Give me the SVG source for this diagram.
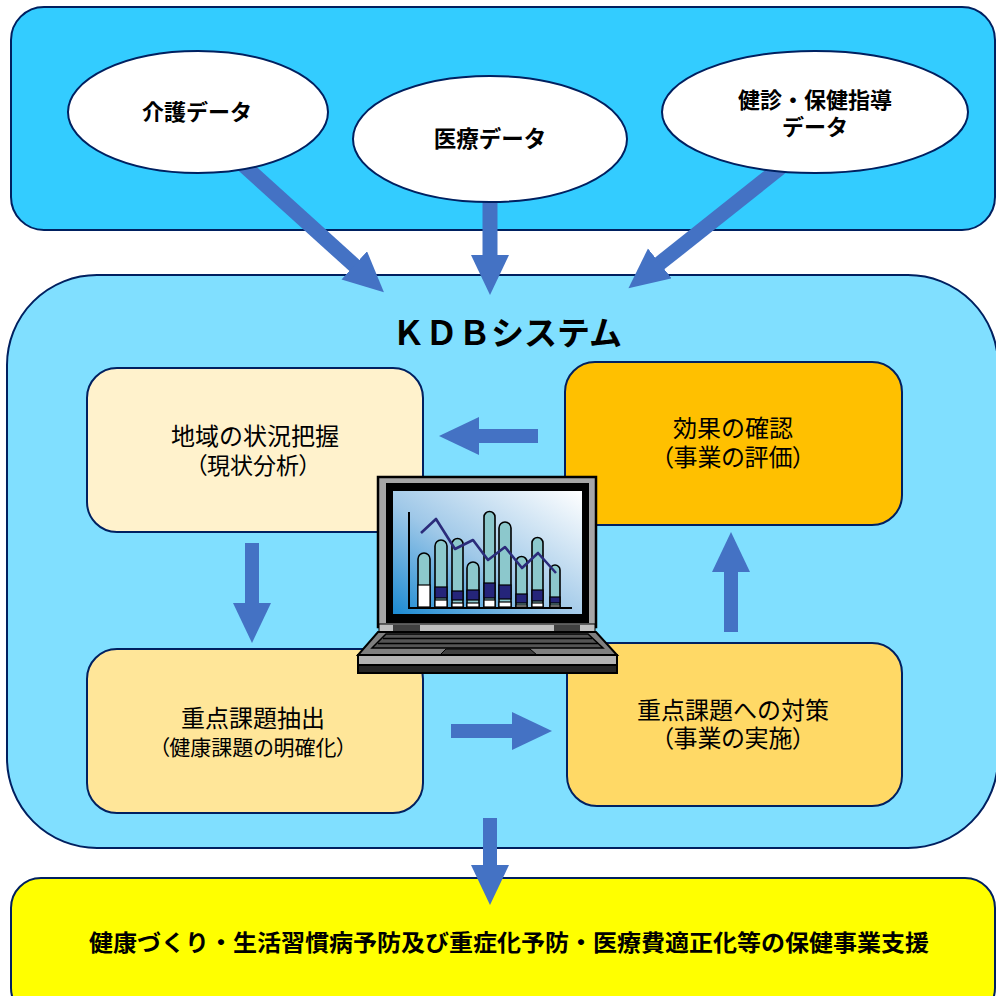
<svg xmlns="http://www.w3.org/2000/svg" width="996" height="996" viewBox="0 0 996 996">
  <defs>
    <style>
      .frame { stroke: #002060; stroke-width: 2; }
      .node { stroke: #002060; stroke-width: 2; }
      .lbl { font-family: "Noto Sans CJK JP", "Noto Sans", sans-serif; fill: #000; text-anchor: middle; }
      .b { font-weight: bold; }
      .palt { font-feature-settings: "palt"; }
      .conn { stroke: #4472C4; fill: none; }
      .bar { fill: #8CC8CC; stroke: #000; stroke-width: 1.6; }
      .seg-n { fill: #25257A; stroke: #000; stroke-width: 1.2; }
      .seg-w { fill: #FFFFFF; stroke: #000; stroke-width: 1.2; }
    </style>
    <marker id="head" markerUnits="userSpaceOnUse" markerWidth="42" markerHeight="40" refX="1" refY="19" orient="auto">
      <path d="M0,0 L40,19 L0,38 Z" fill="#4472C4"/>
    </marker>
    <linearGradient id="scr" x1="0" y1="1" x2="1" y2="0">
      <stop offset="0" stop-color="#1B8AD2"/>
      <stop offset="0.45" stop-color="#9FC8E8"/>
      <stop offset="1" stop-color="#FFFFFF"/>
    </linearGradient>
  </defs>

  <!-- containers -->
  <g id="data-sources">
    <rect class="frame" x="11" y="7" width="984" height="223" rx="33" fill="#33CCFF"/>
  </g>
  <g id="kdb-system">
    <rect class="frame" x="7" y="275" width="991" height="573" rx="90" fill="#80DFFF"/>
    <text class="lbl" x="507" y="345" font-size="33" font-weight="bold">ＫＤＢシステム</text>
  </g>
  <g id="support">
    <rect class="frame" x="11" y="878" width="984" height="140" rx="30" fill="#FFFF00"/>
    <text class="lbl b" x="509" y="951" font-size="23" textLength="840" lengthAdjust="spacingAndGlyphs">健康づくり・生活習慣病予防及び重症化予防・医療費適正化等の保健事業支援</text>
  </g>

  <!-- cycle steps -->
  <g id="step-analysis">
    <rect class="node" x="87" y="368" width="336" height="164" rx="30" fill="#FFF2CC"/>
    <text class="lbl" font-size="24"><tspan x="255" y="445">地域の状況把握</tspan><tspan class="palt" x="253" y="474" font-size="23">（現状分析）</tspan></text>
  </g>
  <g id="step-evaluation">
    <rect class="node" x="565" y="362" width="337" height="163" rx="30" fill="#FFC000"/>
    <text class="lbl" font-size="24"><tspan x="733" y="437">効果の確認</tspan><tspan class="palt" x="733" y="466">（事業の評価）</tspan></text>
  </g>
  <g id="step-extraction">
    <rect class="node" x="87" y="649" width="336" height="164" rx="30" fill="#FFE699"/>
    <text class="lbl" font-size="24"><tspan x="253" y="727">重点課題抽出</tspan><tspan class="palt" x="253" y="755" font-size="21">（健康課題の明確化）</tspan></text>
  </g>
  <g id="step-measures">
    <rect class="node" x="567" y="643" width="335" height="163" rx="30" fill="#FFD966"/>
    <text class="lbl" font-size="24"><tspan x="733" y="719">重点課題への対策</tspan><tspan class="palt" x="733" y="747">（事業の実施）</tspan></text>
  </g>

  <!-- laptop with chart -->
  <g id="laptop">
    <rect x="378" y="477" width="218" height="150" fill="#A6A6A6" stroke="#000" stroke-width="2.5"/>
    <rect x="386" y="483" width="203" height="140" fill="#000"/>
    <rect x="393" y="491" width="189" height="123" fill="url(#scr)"/>
    <rect x="379" y="624" width="216" height="8" fill="#BFBFBF" stroke="#000" stroke-width="1"/>
    <rect x="393" y="625" width="27" height="6" fill="#404040"/>
    <rect x="554" y="625" width="26" height="6" fill="#404040"/>
    <polygon points="378,632 596,632 617,655 358,655" fill="#7F7F7F" stroke="#000" stroke-width="2"/>
    <polygon points="386,634 588,634 603,648 372,648" fill="#555" stroke="#000" stroke-width="1.5"/>
    <line x1="383" y1="638.5" x2="592" y2="638.5" stroke="#000" stroke-width="1.5"/>
    <line x1="378" y1="643.5" x2="598" y2="643.5" stroke="#000" stroke-width="1.5"/>
    <polygon points="446,649 530,649 537,655 440,655" fill="#404040" stroke="#000" stroke-width="1"/>
    <rect x="358" y="655" width="259" height="10" fill="#B3B3B3" stroke="#000" stroke-width="2"/>
    <rect x="358" y="665" width="259" height="8" fill="#262626" stroke="#000" stroke-width="2"/>

    <!-- chart -->
    <path class="bar" d="M418,607 V559 A6,6 0 0 1 430,559 V607 Z"/>
    <rect class="seg-w" x="418" y="585" width="12" height="22"/>
    <path class="bar" d="M435,607 V546 A6,6 0 0 1 447,546 V607 Z"/>
    <rect class="seg-n" x="435" y="587" width="12" height="11"/>
    <rect class="seg-w" x="435" y="600" width="12" height="7"/>
    <path class="bar" d="M452,607 V544 A5.5,5.5 0 0 1 463,544 V607 Z"/>
    <rect class="seg-n" x="452" y="591" width="11" height="9"/>
    <rect class="seg-w" x="452" y="603" width="11" height="4"/>
    <path class="bar" d="M467,607 V568 A6,6 0 0 1 479,568 V607 Z"/>
    <rect class="seg-n" x="467" y="590" width="12" height="10"/>
    <rect class="seg-w" x="467" y="603" width="12" height="4"/>
    <path class="bar" d="M484,607 V517 A5.5,5.5 0 0 1 495,517 V607 Z"/>
    <rect class="seg-n" x="484" y="583" width="11" height="15"/>
    <rect class="seg-w" x="484" y="600" width="11" height="7"/>
    <path class="bar" d="M499,607 V528 A6,6 0 0 1 511,528 V607 Z"/>
    <rect class="seg-n" x="499" y="585" width="12" height="14"/>
    <rect class="seg-w" x="499" y="602" width="12" height="5"/>
    <path class="bar" d="M516,607 V562 A5.5,5.5 0 0 1 527,562 V607 Z"/>
    <rect class="seg-n" x="516" y="594" width="11" height="9"/>
    <rect class="seg-w" x="516" y="605" width="11" height="2"/>
    <path class="bar" d="M532,607 V543 A5.5,5.5 0 0 1 543,543 V607 Z"/>
    <rect class="seg-n" x="532" y="590" width="11" height="11"/>
    <rect class="seg-w" x="532" y="603" width="11" height="4"/>
    <path class="bar" d="M550,607 V570 A5,5 0 0 1 560,570 V607 Z"/>
    <rect class="seg-n" x="550" y="597" width="10" height="6"/>
    <rect class="seg-w" x="550" y="605" width="10" height="2"/>
    <polyline points="421,533 436,519 455,549 473,540 488,560 505,547 522,568 538,553 556,573" fill="none" stroke="#2B2B7A" stroke-width="2.6" stroke-linejoin="round"/>
    <line x1="409" y1="512" x2="409" y2="608" stroke="#000" stroke-width="2"/>
    <line x1="408" y1="608" x2="572" y2="608" stroke="#000" stroke-width="2"/>
  </g>

  <!-- connectors -->
  <g id="connectors">
    <line class="conn" x1="240" y1="162" x2="355" y2="266" stroke-width="15" marker-end="url(#head)"/>
    <line class="conn" x1="490" y1="195" x2="490" y2="256" stroke-width="15" marker-end="url(#head)"/>
    <line class="conn" x1="785" y1="164" x2="659" y2="264" stroke-width="15" marker-end="url(#head)"/>
    <line class="conn" x1="538" y1="436" x2="478" y2="436" stroke-width="14" marker-end="url(#head)"/>
    <line class="conn" x1="252" y1="543" x2="252" y2="604" stroke-width="14" marker-end="url(#head)"/>
    <line class="conn" x1="451" y1="731" x2="513" y2="731" stroke-width="14" marker-end="url(#head)"/>
    <line class="conn" x1="731" y1="632" x2="731" y2="571" stroke-width="14" marker-end="url(#head)"/>
    <line class="conn" x1="490" y1="818" x2="490" y2="866" stroke-width="14" marker-end="url(#head)"/>
  </g>

  <!-- data source nodes -->
  <g id="care-data">
    <ellipse class="node" cx="198" cy="112" rx="130" ry="61" fill="#FFFFFF"/>
    <text class="lbl b" x="197" y="120" font-size="22">介護データ</text>
  </g>
  <g id="medical-data">
    <ellipse class="node" cx="490" cy="139" rx="137" ry="63" fill="#FFFFFF"/>
    <text class="lbl b" x="490" y="147" font-size="22.5">医療データ</text>
  </g>
  <g id="checkup-data">
    <ellipse class="node" cx="815" cy="112" rx="153" ry="61" fill="#FFFFFF"/>
    <text class="lbl b" font-size="22"><tspan x="815" y="108">健診・保健指導</tspan><tspan x="815" y="135">データ</tspan></text>
  </g>
</svg>
